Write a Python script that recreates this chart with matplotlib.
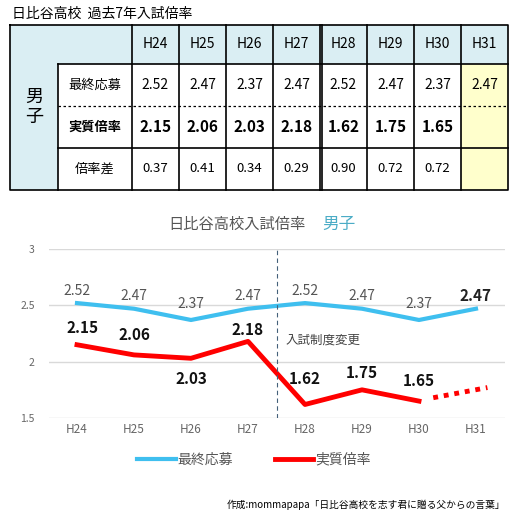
import matplotlib.pyplot as plt
from matplotlib.patches import Rectangle

plt.rcParams['font.family'] = ['Noto Sans CJK JP', 'DejaVu Sans']

years = ['H24', 'H25', 'H26', 'H27', 'H28', 'H29', 'H30', 'H31']
final_apply = [2.52, 2.47, 2.37, 2.47, 2.52, 2.47, 2.37, 2.47]
real_rate = [2.15, 2.06, 2.03, 2.18, 1.62, 1.75, 1.65]
rate_diff = ['0.37', '0.41', '0.34', '0.29', '0.90', '0.72', '0.72']
projection = [1.68, 1.77]

W, H = 518, 524
fig = plt.figure(figsize=(W / 100, H / 100), dpi=100)

# table drawn in pixel coords
tab = fig.add_axes([0, 0, 1, 1])
tab.set_xlim(0, W)
tab.set_ylim(H, 0)
tab.axis('off')

blue = '#daeef3'
yellow = '#ffffcc'
xs = [10, 58, 132, 179, 226, 273, 320, 367, 414, 461, 508]
ys = [25, 64, 106, 148, 190]

tab.text(12, 14, '日比谷高校  過去7年入試倍率', fontsize=10, va='center', ha='left')
tab.add_patch(Rectangle((10, 25), 48, 165, fc=blue, ec='none'))
tab.add_patch(Rectangle((58, 25), 450, 39, fc=blue, ec='none'))
tab.add_patch(Rectangle((461, 64), 47, 126, fc=yellow, ec='none'))

lw = 1.2
tab.plot([10, 508, 508, 10, 10], [25, 25, 190, 190, 25], color='black', lw=lw)
tab.plot([58, 58], [64, 190], color='black', lw=lw)
tab.plot([58, 508], [64, 64], color='black', lw=lw)
tab.plot([58, 508], [148, 148], color='black', lw=lw)
tab.plot([58, 508], [106, 106], color='black', lw=0.9, ls=(0, (2, 2)))
for x in xs[2:-1]:
    tab.plot([x, x], [25, 190], color='black', lw=lw)
tab.plot([322, 322], [25, 190], color='black', lw=lw)

tab.text(34, 107, '男\n子', fontsize=13, ha='center', va='center', linespacing=1.2)
row_names = ['最終応募', '実質倍率', '倍率差']
for i, name in enumerate(row_names):
    yc = (ys[i + 1] + ys[i + 2]) / 2
    tab.text(95, yc, name, fontsize=9.5, ha='center', va='center',
             fontweight='bold' if i == 1 else 'normal')

for j, yr in enumerate(years):
    xc = (xs[j + 2] + xs[j + 3]) / 2
    tab.text(xc, 44, yr, fontsize=10, ha='center', va='center')
    tab.text(xc, 85, f'{final_apply[j]:.2f}', fontsize=10, ha='center', va='center')
    if j < len(real_rate):
        tab.text(xc, 127, f'{real_rate[j]:.2f}', fontsize=11, ha='center', va='center', fontweight='bold')
        tab.text(xc, 169, rate_diff[j], fontsize=9.5, ha='center', va='center')

tab.text(306, 224, '日比谷高校入試倍率', fontsize=11, color='#555555', ha='right', va='center')
tab.text(322, 224, '男子', fontsize=12, color='#4bacc6', ha='left', va='center')
tab.text(505, 505, '作成:mommapapa「日比谷高校を志す君に贈る父からの言葉」', fontsize=7, ha='right', va='center')

# line chart
ax = fig.add_axes([48.5 / W, 1 - 418 / H, 456 / W, 169 / H])
x = list(range(len(years)))
ax.plot(x, final_apply, color='#3fbfef', lw=3, label='最終応募')
ax.plot(x[:len(real_rate)], real_rate, color='#ff0000', lw=3.5, label='実質倍率')
ax.plot([6.25, 7.2], projection, color='#ff0000', lw=3.5, ls=(0, (1, 1.2)))
ax.axvline(3.5, color='#44607a', lw=0.8, ls=(0, (4, 3)), ymin=0, ymax=1)
ax.text(3.65, 2.19, '入試制度変更', fontsize=9, color='#444444', va='center')

for i, v in enumerate(final_apply):
    ax.text(i, v + 0.11 + (0.03 if v < 2.4 else 0), f'{v:.2f}', ha='center', va='center',
            fontsize=10 if i < 7 else 11, color='#555555' if i < 7 else '#222222',
            fontweight='bold' if i == 7 else 'normal')
offsets = [0.15, 0.18, -0.18, 0.1, 0.23, 0.15, 0.18]
for i, v in enumerate(real_rate):
    ax.text(i + (0.1 if i == 0 else 0), v + offsets[i], f'{v:.2f}', ha='center', va='center',
            fontsize=11, fontweight='bold', color='#111111')

ax.set_xlim(-0.5, 7.5)
ax.set_ylim(1.5, 3)
ax.set_yticks([1.5, 2, 2.5, 3])
ax.set_yticklabels(['1.5', '2', '2.5', '3'])
ax.set_xticks(x)
ax.set_xticklabels(years)
ax.tick_params(length=0, labelsize=8.5, colors='#666666')
ax.tick_params(axis='y', labelsize=7.5, pad=10)
ax.grid(axis='y', color='#d9d9d9', lw=1)
ax.set_axisbelow(True)
for s in ax.spines.values():
    s.set_visible(False)
ax.legend(loc='upper center', bbox_to_anchor=(0.45, -0.13), ncol=2, frameon=False,
          fontsize=10, handlelength=2.8, columnspacing=3, handletextpad=0.1,
          labelcolor='#555555')

fig.savefig('out.png', dpi=100)
